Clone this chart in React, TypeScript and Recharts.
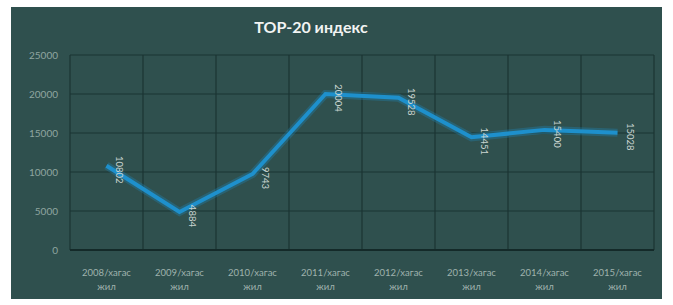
import { LineChart, Line, XAxis, YAxis, CartesianGrid, LabelList } from 'recharts';

const periods = ['2008', '2009', '2010', '2011', '2012', '2013', '2014', '2015'];
const indexValues = [10802, 4884, 9743, 20004, 19528, 14451, 15400, 15028];
const yTicks = [0, 5000, 10000, 15000, 20000, 25000];
const gridTicks = [0, 1, 2, 3, 4, 5, 6, 7, 8];

const data = periods.map((p, i) => ({ period: p, gridPos: i + 0.5, value: indexValues[i] }));

const FONT = 'Lato, "Open Sans", sans-serif';

function PeriodTick(props: any) {
  const { x, y, payload } = props;
  return (
    <g>
      <text x={x} y={y + 18} textAnchor="middle" fill="#9fb2ad" fontSize={9.5} fontFamily={FONT}>
        {payload.value}/хагас
      </text>
      <text x={x} y={y + 32} textAnchor="middle" fill="#9fb2ad" fontSize={9.5} fontFamily={FONT}>
        жил
      </text>
    </g>
  );
}

function ValueLabel(props: any) {
  const { x, y, value } = props;
  const tx = x + 13;
  const ty = y + 4;
  return (
    <text
      x={tx}
      y={ty}
      transform={`rotate(90, ${tx}, ${ty})`}
      textAnchor="middle"
      dominantBaseline="central"
      fill="#c9d4d0"
      fontSize={9.5}
      fontFamily={FONT}
    >
      {value}
    </text>
  );
}

export default function App() {
  return (
    <div style={{ position: 'absolute', left: 0, top: 0, width: 673, height: 305, background: '#fff' }}>
      <div
        style={{
          position: 'absolute',
          left: 11,
          top: 7,
          width: 651,
          height: 292,
          background: '#2f504e',
        }}
      >
        <div
          style={{
            position: 'absolute',
            left: 0,
            top: 10,
            width: 600,
            textAlign: 'center',
            color: '#f2f4f3',
            fontFamily: FONT,
            fontWeight: 700,
            fontSize: 16,
          }}
        >
          TOP-20 индекс
        </div>
        <LineChart width={651} height={292} data={data} margin={{ top: 48, right: 8, left: 0, bottom: 0 }}>
          <CartesianGrid xAxisId="grid" stroke="#1b3433" strokeWidth={1.2} />
          <XAxis
            dataKey="period"
            type="category"
            padding={{ left: 36.5, right: 36.5 }}
            axisLine={{ stroke: '#142a29', strokeWidth: 2 }}
            tickLine={false}
            height={49}
            tick={<PeriodTick />}
            interval={0}
          />
          <XAxis xAxisId="grid" dataKey="gridPos" type="number" domain={[0, 8]} ticks={gridTicks} hide />
          <YAxis
            domain={[0, 25000]}
            ticks={yTicks}
            width={59}
            axisLine={false}
            tickLine={false}
            tickSize={0}
            tickMargin={12}
            tick={{ fill: '#8fa6a0', fontSize: 10, fontFamily: FONT }}
          />
          <Line
            dataKey="value"
            stroke="#1f8fc8"
            strokeOpacity={0.3}
            strokeWidth={8}
            dot={false}
            activeDot={false}
            isAnimationActive={false}
            legendType="none"
          />
          <Line
            dataKey="value"
            stroke="#1e90cc"
            strokeWidth={4}
            dot={false}
            isAnimationActive={false}
          >
            <LabelList dataKey="value" content={<ValueLabel />} />
          </Line>
        </LineChart>
      </div>
    </div>
  );
}
